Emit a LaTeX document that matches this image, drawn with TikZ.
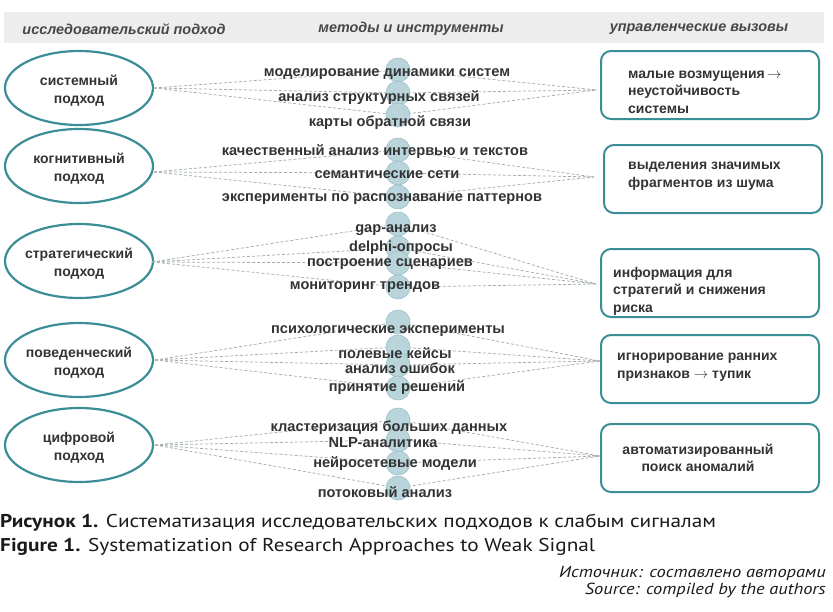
\documentclass[tikz,border=0pt]{standalone}
\usepackage{fontspec}
\setmainfont{Liberation Sans}
\newfontfamily\capfont[FakeStretch=1.15]{PT Sans}
\usetikzlibrary{shapes.geometric}
\definecolor{teal1}{HTML}{3B8E96}
\definecolor{txt}{HTML}{333333}
\definecolor{circfill}{HTML}{B9D4DB}
\definecolor{circdraw}{HTML}{9DBFC7}
\definecolor{dashc}{HTML}{A3ACB0}
\definecolor{band}{HTML}{EDEDED}
\definecolor{captxt}{HTML}{1A1A1A}
\begin{document}
\begin{tikzpicture}[x=1pt,y=-1pt,
  appr/.style={ellipse, draw=teal1, line width=2.2pt, minimum width=148pt, minimum height=74pt, inner sep=0pt},
  apprtxt/.style={align=center, font=\fontsize{14}{18}\selectfont\bfseries, text=txt, inner sep=0pt, yshift=-2.5pt},
  chal/.style={draw=teal1, line width=2pt, rounded corners=10pt, minimum width=218pt, minimum height=68pt, anchor=north west, inner sep=0pt},
  chaltxt/.style={anchor=west, align=left, font=\fontsize{14}{17.5}\selectfont\bfseries, text=txt, inner sep=0pt, yshift=-2pt},
  dot/.style={circle, fill=circfill, draw=circdraw, line width=0.6pt, minimum size=24pt, inner sep=0pt},
  meth/.style={font=\fontsize{14.6}{16}\selectfont\bfseries, text=txt, inner sep=0pt, yshift=-2pt},
  hdr/.style={font=\fontsize{14.4}{16}\selectfont\bfseries\itshape, text=txt!90, inner sep=0pt, yshift=-1pt},
  conn/.style={draw=dashc, line width=0.75pt, dash pattern=on 3pt off 2pt},
  captionline/.style={font=\capfont\fontsize{18.5}{20}\selectfont, text=captxt, inner sep=0pt},
  srcline/.style={font=\capfont\fontsize{16}{17}\selectfont\itshape, text=captxt, inner sep=0pt, anchor=east}
]
\useasboundingbox (0,0) rectangle (833,611);
\fill[band] (4,12) rectangle (824,43);
\node[hdr] (h1) at (124,28) {исследовательский подход};
\node[hdr] (h2) at (411,28) {методы и инструменты};
\node[hdr] (h3) at (699,28) {управленческие вызовы};

% approaches
\node[appr] (e1) at (79,88) {};
\node[appr] (e2) at (79,166) {};
\node[appr] (e3) at (79,261) {};
\node[appr] (e4) at (79,360) {};
\node[appr] (e5) at (79,445) {};
\node[apprtxt] (et1) at (e1) {системный\\подход};
\node[apprtxt] (et2) at (e2) {когнитивный\\подход};
\node[apprtxt] (et3) at (e3) {стратегический\\подход};
\node[apprtxt] (et4) at (e4) {поведенческий\\подход};
\node[apprtxt] (et5) at (e5) {цифровой\\подход};

\coordinate (l1) at (154,88);
\coordinate (l2) at (154,172);
\coordinate (l3) at (152,262);
\coordinate (l4) at (155,360);
\coordinate (l5) at (155,445);

% challenges
\node[chal] (b1) at (600,50) {};
\node[chal] (b2) at (603,144) {};
\node[chal] (b3) at (600,248) {};
\node[chal] (b4) at (600,334) {};
\node[chal] (b5) at (600,423) {};

\coordinate (r1) at (597,90);
\coordinate (r2) at (594,177);
\coordinate (r3) at (596,284);
\coordinate (r4) at (600,361);
\coordinate (r5) at (600,456);

% connectors
\foreach \g/\list/\ys in {1/{11,12,13}/{70,93,115},2/{21,22,23}/{150,173,197},3/{31,32,33,34}/{224,248,263,287},4/{41,42,43,44}/{322,347,365,388},5/{51,52,53,54}/{420,440,463,488}}{
  \foreach \c [count=\i] in \list {
    \pgfmathsetmacro{\yy}{{\ys}[\i-1]}
    \coordinate (p\c) at (398,\yy);
    \draw[conn] (l\g) -- (p\c);
    \draw[conn] (p\c) -- (r\g);
  }
}
% circles over lines
\foreach \n/\y in {11/70,12/93,13/115,21/150,22/173,23/197,31/224,32/248,33/263,34/287,41/322,42/347,43/365,44/388,51/420,52/440,53/463,54/488}
  \node[dot] (c\n) at (398,\y) {};

% method labels
\node[meth] (m11) at (387,72) {моделирование динамики систем};
\node[meth] (m12) at (379,96) {анализ структурных связей};
\node[meth] (m13) at (390,121) {карты обратной связи};
\node[meth] (m21) at (375,150) {качественный анализ интервью и текстов};
\node[meth] (m22) at (387,173) {семантические сети};
\node[meth] (m23) at (382,197) {эксперименты по распознавание паттернов};
\node[meth] (m31) at (396,228) {gap-анализ};
\node[meth] (m32) at (401,246) {delphi-опросы};
\node[meth] (m33) at (390,262) {построение сценариев};
\node[meth] (m34) at (365,285) {мониторинг трендов};
\node[meth] (m41) at (388,329) {психологические эксперименты};
\node[meth] (m42) at (395,351) {полевые кейсы};
\node[meth] (m43) at (400,366) {анализ ошибок};
\node[meth] (m44) at (397,386) {принятие решений};
\node[meth] (m51) at (389,426) {кластеризация больших данных};
\node[meth] (m52) at (383,441) {NLP-аналитика};
\node[meth] (m53) at (395,462) {нейросетевые модели};
\node[meth] (m54) at (385,490) {потоковый анализ};

% challenge texts
\node[chaltxt] (t1) at (628,90) {малые возмущения\,$\rightarrow$\\неустойчивость\\системы};
\node[chaltxt] (t2) at (628,174) {выделения значимых\\фрагментов из шума};
\node[chaltxt] (t3) at (613,289) {информация для\\стратегий и снижения\\риска};
\node[chaltxt] (t4) at (617,365) {игнорирование ранних\\признаков $\rightarrow$ тупик};
\node[chaltxt, align=center, anchor=center] (t5) at (698,456) {автоматизированный\\поиск аномалий};

% caption
\node[captionline, anchor=west] (cap1) at (0,523) {{\bfseries Рисунок 1.} Систематизация исследовательских подходов к слабым сигналам};
\node[captionline, anchor=west] (cap2) at (0,547) {{\bfseries Figure 1.} Systematization of Research Approaches to Weak Signal};
\node[srcline] (s1) at (826,573) {Источник: составлено авторами};
\node[srcline] (s2) at (826,590) {Source: compiled by the authors};
\end{tikzpicture}
\end{document}
